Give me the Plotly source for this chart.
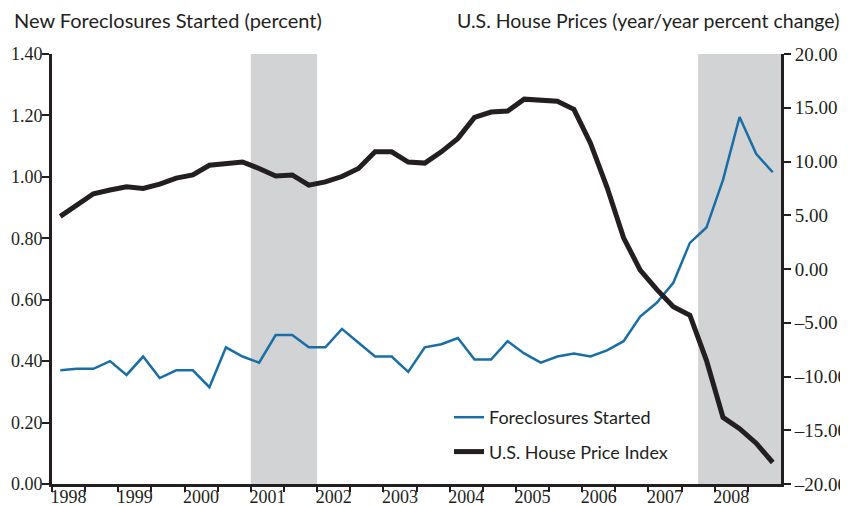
import plotly.graph_objects as go

# ---- data (quarterly, 1998Q1 .. 2008Q4) ----
years = list(range(1998, 2009))
quarters = [1, 2, 3, 4]
year_labels = ["1998", "1999", "2000", "2001", "2002", "2003",
               "2004", "2005", "2006", "2007", "2008"]

foreclosures_started = [
    0.37, 0.375, 0.375, 0.40, 0.355, 0.415, 0.345, 0.37, 0.37, 0.315, 0.445,
    0.415, 0.395, 0.485, 0.485, 0.445, 0.445, 0.505, 0.46, 0.415, 0.415, 0.365,
    0.445, 0.455, 0.475, 0.405, 0.405, 0.465, 0.425, 0.395, 0.415, 0.425, 0.415,
    0.435, 0.465, 0.545, 0.59, 0.655, 0.785, 0.835, 0.99, 1.195, 1.075, 1.015,
]

house_price_index = [
    4.9, 5.95, 7.0, 7.35, 7.65, 7.5, 7.9, 8.45, 8.75, 9.65, 9.75,
    9.95, 9.35, 8.65, 8.75, 7.8, 8.1, 8.6, 9.35, 10.9, 10.9, 9.95,
    9.85, 10.9, 12.15, 14.1, 14.6, 14.7, 15.8, 15.65, 15.6, 14.85, 11.7,
    7.6, 2.9, -0.1, -1.9, -3.5, -4.3, -8.5, -13.8, -14.85, -16.2, -18.0,
]

# recession periods (decimal years)
recession_start = [2001.0, 2007.75]
recession_end = [2002.0, 2009.0]

left_ticks = [0.0, 0.2, 0.4, 0.6, 0.8, 1.0, 1.2, 1.4]
right_ticks = [-20, -15, -10, -5, 0, 5, 10, 15, 20]

# decimal-year position of each quarter (mid-quarter)
t = [y + (q - 0.5) / 4 for y in years for q in quarters]

INK = "#231f20"
BLUE = "#1a6ea6"
GREY = "#d1d3d4"
SERIF = "Liberation Serif"
SANS = "Lato"

# page body has an 8px margin, so the figure is laid out 8px in from the window
OFF = 8
W, H = 848 - OFF, 506 - OFF
L, R, T, B = 52 - OFF, W - (781 - OFF), 54 - OFF, H - (484 - OFF)
PW = W - L - R
PH = H - T - B

fig = go.Figure()

fig.add_trace(go.Scatter(
    x=t, y=foreclosures_started, mode="lines", name="Foreclosures Started",
    line=dict(color=BLUE, width=2.5), yaxis="y", legendgroup="a",
))
fig.add_trace(go.Scatter(
    x=t, y=house_price_index, mode="lines", name="U.S. House Price Index",
    line=dict(color=INK, width=5), yaxis="y2", legendgroup="b",
))

shapes = []
for s, e in zip(recession_start, recession_end):
    shapes.append(dict(type="rect", xref="x", yref="paper", x0=s, x1=e,
                       y0=0, y1=1, fillcolor=GREY, line=dict(width=0),
                       layer="below"))


def fmt(v):
    s = f"{abs(v):.2f}"
    return ("\u2013" + s) if v < 0 else s


fig.update_layout(
    width=W, height=H,
    margin=dict(l=L, r=R, t=T, b=B, autoexpand=False),
    paper_bgcolor="white", plot_bgcolor="white",
    shapes=shapes,
    showlegend=True,
    legend=dict(
        x=(449 - OFF - L) / PW, y=(484 - 399) / PH, xanchor="left", yanchor="top",
        font=dict(family=SANS, size=18, color=INK),
        bgcolor="rgba(0,0,0,0)", traceorder="grouped", tracegroupgap=8,
        itemwidth=30,
    ),
    xaxis=dict(
        range=[1998, 2009],
        tickmode="array",
        tickvals=[y + 0.25 for y in years],
        ticktext=year_labels,
        ticks="", ticklen=0,
        ticklabelstandoff=-6,
        showline=True, linecolor=INK, linewidth=3,
        showgrid=False, zeroline=False, automargin=False,
        tickfont=dict(family=SERIF, size=18, color=INK),
        minor=dict(
            tickmode="array",
            tickvals=[1998 + 0.5 * k for k in range(0, 22)],
            ticks="outside", ticklen=5, tickwidth=2, tickcolor=INK,
            showgrid=False,
        ),
    ),
    yaxis=dict(
        range=[0, 1.4],
        tickmode="array", tickvals=left_ticks,
        ticktext=[f"{v:.2f}" for v in left_ticks],
        ticks="outside", ticklen=7, tickwidth=2, tickcolor=INK,
        ticklabelstandoff=-4,
        showline=True, linecolor=INK, linewidth=3,
        showgrid=False, zeroline=False, automargin=False,
        tickfont=dict(family=SERIF, size=18, color=INK),
    ),
    yaxis2=dict(
        range=[-20, 20], overlaying="y", side="right",
        tickmode="array", tickvals=right_ticks,
        ticktext=[fmt(v) for v in right_ticks],
        ticks="outside", ticklen=7, tickwidth=2, tickcolor=INK,
        showline=True, linecolor=INK, linewidth=3,
        showgrid=False, zeroline=False, automargin=False,
        tickfont=dict(family=SERIF, size=19, color=INK),
    ),
    annotations=[
        dict(text="New Foreclosures Started (percent)", xref="paper", yref="paper",
             x=(12 - OFF - L) / PW, y=1, yshift=34, xanchor="left", yanchor="middle",
             showarrow=False, font=dict(family=SANS, size=20, color=INK)),
        dict(text="U.S. House Prices (year/year percent change)", xref="paper",
             yref="paper", x=(841 - OFF - L) / PW, y=1, yshift=34, xanchor="right",
             yanchor="middle", showarrow=False,
             font=dict(family=SANS, size=19.5, color=INK)),
    ],
)

fig.write_html("out.html")
